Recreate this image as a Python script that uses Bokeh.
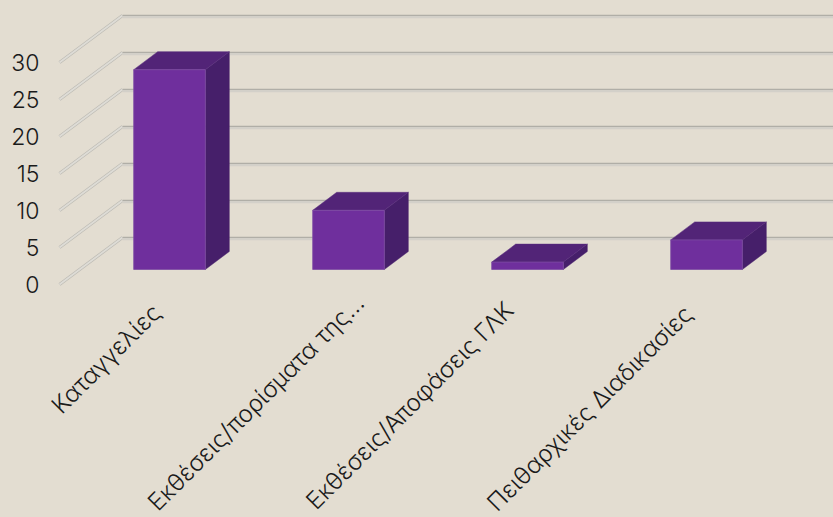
import numpy as np
from bokeh.plotting import figure
from bokeh.models import LinearAxis, FixedTicker, Range1d
from bokeh.core.properties import value
from bokeh.embed import file_html
from bokeh.resources import INLINE

categories = ["Καταγγελίες", "Εκθέσεις/πορίσματα της…", "Εκθέσεις/Αποφάσεις ΓΛΚ", "Πειθαρχικές Διαδικασίες"]
values = [27, 8, 1, 4]
y_ticks = [0, 5, 10, 15, 20, 25, 30]

BG = "#e3ddd1"
FONT = "Inter Light, Inter"
PX_X = 179.0   # px per category
PX_Y = 7.4     # px per value unit
wall_dx, wall_dy = 63 / PX_X, 47 / PX_Y
base_dx, base_dy = 20 / PX_X, 15 / PX_Y
bar_dx, bar_dy = 24 / PX_X, 18 / PX_Y
half = 0.2

W, H = 833, 517
LEFT = 50
x_lo = (LEFT - 149) / PX_X
x_hi = (833 - 149) / PX_X
p = figure(width=W, height=H, output_backend="svg", toolbar_location=None,
           x_axis_location=None, y_axis_location=None,
           x_range=Range1d(x_lo, x_hi),
           y_range=Range1d((284 - 517) / PX_Y, 284 / PX_Y),
           min_border_left=LEFT, min_border_right=0, min_border_top=0, min_border_bottom=0,
           background_fill_color=BG, border_fill_color=BG, outline_line_color=None)
p.xgrid.visible = False
p.ygrid.visible = False

x_front = -90 / PX_X
ys = np.array(y_ticks, dtype=float)
xb = x_front + wall_dx
p.multi_line([[x_front, xb] for _ in ys], [[y, y + wall_dy] for y in ys], line_color="#bdbbb4", line_width=3.2)
p.multi_line([[x_front, xb] for _ in ys], [[y, y + wall_dy] for y in ys], line_color="#dedcd6", line_width=1.8)
p.multi_line([[xb, x_hi] for _ in ys], [[y + wall_dy - 0.22, y + wall_dy - 0.22] for y in ys], line_color="#d3d0c9", line_width=2.2)
p.multi_line([[xb, x_hi] for _ in ys], [[y + wall_dy + 0.03, y + wall_dy + 0.03] for y in ys], line_color="#b0aea7", line_width=1.3)

for i, v in enumerate(values):
    xl = i + base_dx - half
    xr = i + base_dx + half
    y0 = base_dy
    y1 = base_dy + v
    p.patch([xr, xr + bar_dx, xr + bar_dx, xr], [y0, y0 + bar_dy, y1 + bar_dy, y1],
            fill_color="#461f6a", line_color="#461f6a", line_width=0.5)
    p.patch([xl, xl + bar_dx, xr + bar_dx, xr], [y1, y1 + bar_dy, y1 + bar_dy, y1],
            fill_color="#522477", line_color="#5a2f7e", line_width=0.5)
    p.patch([xl, xr, xr, xl], [y0, y0, y1, y1],
            fill_color="#6f2f9d", line_color="#7d4ca3", line_width=0.8)

yaxis = LinearAxis(ticker=FixedTicker(ticks=y_ticks), axis_line_color=None,
                   major_tick_line_color=None, minor_tick_line_color=None,
                   major_label_standoff=5, major_label_text_font=FONT,
                   major_label_text_font_size="23px", major_label_text_color="#1a1a1a")
p.add_layout(yaxis, "left")

# label end anchors relative to each category position
label_dx = [0.04, 0.175, 0.01, 0.01]
label_dy = [-3.2, -1.9, -2.9, -3.4]
p.text([i + d for i, d in enumerate(label_dx)], label_dy, text=categories, angle=np.pi / 4,
       text_align="right", text_baseline="middle", text_font=value(FONT),
       text_font_size="24px", text_color="#1a1a1a")

html = file_html(p, INLINE)
html = html.replace("<head>", f"<head><style>html,body{{background:{BG};overflow:hidden}}</style>", 1)
open("out.html", "w").write(html)
